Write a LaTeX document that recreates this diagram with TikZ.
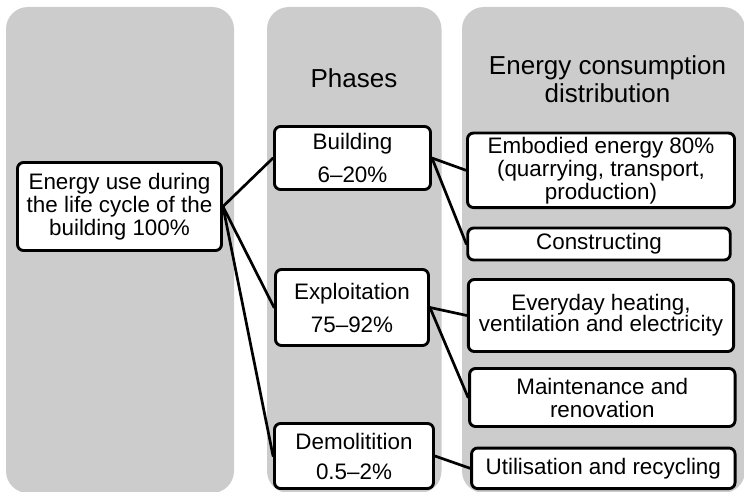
\documentclass[tikz,border=0pt]{standalone}
\usepackage{fontspec}
\setmainfont{Liberation Sans}
\definecolor{colgray}{RGB}{204,204,204}
\begin{document}
\begin{tikzpicture}[x=1pt,y=-1pt,
  col/.style={fill=colgray, rounded corners=22pt},
  box/.style={draw=black, fill=white, line width=2.9pt, rounded corners=6pt,
    inner sep=0pt, align=center, font=\fontsize{22.4}{23}\selectfont},
  title/.style={inner sep=0pt, align=center, font=\fontsize{26}{28.3}\selectfont},
  link/.style={line width=2.7pt, line cap=round}]
\clip (0,0) rectangle (744,492);
\useasboundingbox (0,0) rectangle (744,492);
% columns
\fill[col] (6,7) rectangle (234,493);
\fill[col] (267,7) rectangle (441.5,493);
\fill[col] (462,7) rectangle (745,493);
% titles
\node[title, anchor=base] (tphases) at (354,88) {Phases};
\node[title] (tdist) at (607.5,79) {Energy consumption\\distribution};
% nodes
\node[box, minimum width=204, minimum height=88] (main) at (119.5,206.5)
  {Energy use during\\the life cycle of the\\building 100\%};
\node[box, minimum width=156, minimum height=63] (building) at (352.5,158)
  {Building\\[10pt]6\textendash 20\%};
\node[box, minimum width=153, minimum height=76] (exploit) at (352,307.5)
  {Exploitation\\[10pt]75\textendash 92\%};
\node[box, minimum width=159, minimum height=65] (demol) at (354,456)
  {Demolitition\\[7pt]0.5\textendash 2\%};
\node[box, minimum width=267, minimum height=74.5] (embodied) at (601,170.3)
  {Embodied energy 80\%\\(quarrying, transport,\\production)};
\node[box, minimum width=262.5, minimum height=32] (construct) at (599,244)
  {Constructing};
\node[box, minimum width=265.3, minimum height=72] (everyday) at (601,315.5)
  {Everyday heating,\\[-2pt]ventilation and electricity};
\node[box, minimum width=265.5, minimum height=58] (maint) at (602.3,397.5)
  {Maintenance and\\renovation};
\node[box, minimum width=263.5, minimum height=40.5] (util) at (603.3,468.3)
  {Utilisation and recycling};
% connectors
\draw[link] (main.east) -- (building.west);
\draw[link] (main.east) -- (exploit.west);
\draw[link] (main.east) -- (demol.west);
\draw[link] (building.east) -- (embodied.west);
\draw[link] (building.east) -- (construct.west);
\draw[link] (exploit.east) -- (everyday.west);
\draw[link] (exploit.east) -- (maint.west);
\draw[link] (demol.east) -- (util.west);
\end{tikzpicture}
\end{document}
